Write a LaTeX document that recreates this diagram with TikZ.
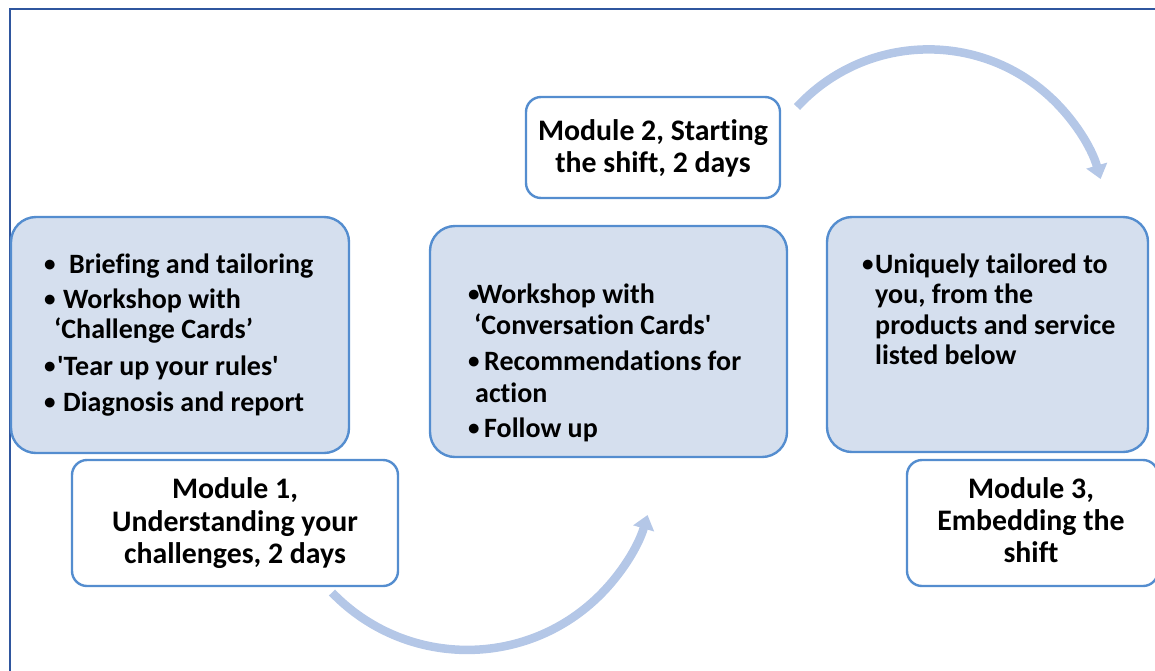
\documentclass[tikz,border=0pt]{standalone}
\usepackage{fontspec}
\setmainfont{Carlito}[Ligatures={TeXOff,NoCommon}]
\usetikzlibrary{arrows.meta}
\definecolor{boxline}{RGB}{84,141,207}
\definecolor{boxfill}{RGB}{213,223,238}
\definecolor{flowcol}{RGB}{180,199,231}
\definecolor{framecol}{RGB}{47,86,158}
\tikzset{
  bluebox/.style={draw=boxline, line width=2.4pt, fill=boxfill, rounded corners=25pt, inner sep=0pt},
  whitebox/.style={draw=boxline, line width=2.4pt, fill=white, rounded corners=15pt, inner sep=0pt},
  txt/.style={anchor=base west, inner sep=0pt, font=\bfseries\fontsize{28}{32}\selectfont},
  bul/.style={anchor=base west, inner sep=0pt, font=\bfseries\fontsize{23}{32}\selectfont},
  ctxt/.style={anchor=base, inner sep=0pt, font=\bfseries\fontsize{29.8}{32}\selectfont},
  flow/.style={draw=flowcol, line width=8.5pt, -{Triangle[width=21pt,length=14pt]}},
  framestyle/.style={draw=framecol, line width=2pt}
}
\begin{document}
\begin{tikzpicture}[x=1pt,y=-1pt]
\useasboundingbox (0,0) rectangle (1155,670);
\clip (0,0) rectangle (1155,670);
% frame
\draw[framestyle] (10,671) -- (10,8.5) -- (1156,8.5);
% boxes
\node[bluebox, minimum width=338pt, minimum height=236pt] (boxA) at (180,335) {};
\node[whitebox, minimum width=326pt, minimum height=126pt] (mod1) at (235,523) {};
\node[bluebox, minimum width=357pt, minimum height=231pt] (boxB) at (608.5,341.5) {};
\node[whitebox, minimum width=254pt, minimum height=101pt] (mod2) at (653,147.5) {};
\node[bluebox, minimum width=321pt, minimum height=235pt] (boxC) at (987.5,334.5) {};
\node[whitebox, minimum width=251pt, minimum height=126pt] (mod3) at (1032.5,523) {};
% box A text
\node[bul] (ab1) at (44,271) {•};
\node[txt] (at1) at (69,273) {Briefing and tailoring};
\node[bul] (ab2) at (44,306) {•};
\node[txt] (at2) at (63,308) {Workshop with};
\node[txt] (at3) at (54,338) {‘Challenge Cards’};
\node[bul] (ab4) at (44,373) {•};
\node[txt] (at4) at (57,375) {'Tear up your rules'};
\node[bul] (ab5) at (44,409) {•};
\node[txt] (at5) at (63,411) {Diagnosis and report};
% box B text
\node[bul] (bb1) at (468,301) {•};
\node[txt] (bt1) at (477,303) {Workshop with};
\node[txt] (bt2) at (474,334) {‘Conversation Cards'};
\node[bul] (bb3) at (468,368) {•};
\node[txt] (bt3) at (484,370) {Recommendations for};
\node[txt] (bt4) at (475,402) {action};
\node[bul] (bb5) at (468,435) {•};
\node[txt] (bt5) at (484,437) {Follow up};
% box C text
\node[bul] (cb1) at (862,271) {•};
\node[txt] (ct1) at (875,273) {Uniquely tailored to};
\node[txt] (ct2) at (875,303) {you, from the};
\node[txt] (ct3) at (875,334) {products and service};
\node[txt] (ct4) at (875,364) {listed below};
% module labels
\node[ctxt] (m1a) at (235,498) {Module 1,};
\node[ctxt] (m1b) at (235,531) {Understanding your};
\node[ctxt] (m1c) at (235,563) {challenges, 2 days};
\node[ctxt] (m2a) at (653,140) {Module 2, Starting};
\node[ctxt] (m2b) at (653,172) {the shift, 2 days};
\node[ctxt] (m3a) at (1031,498) {Module 3,};
\node[ctxt] (m3b) at (1031,530) {Embedding the};
\node[ctxt] (m3c) at (1031,562) {shift};
% flow arrows
\coordinate (f1s) at (332,592.5);
\coordinate (f2s) at (797,107);
\draw[flow] (f1s) arc[start angle=224, end angle=343.6, radius=188pt];
\draw[flow] (f2s) arc[start angle=137.3, end angle=16, radius=179pt];
\end{tikzpicture}
\end{document}
